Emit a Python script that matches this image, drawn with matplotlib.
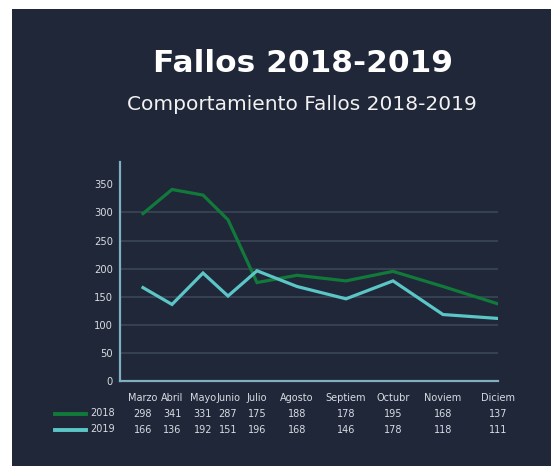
import matplotlib.pyplot as plt
from matplotlib.patches import Rectangle
from matplotlib.transforms import blended_transform_factory

months = ['Marzo', 'Abril', 'Mayo', 'Junio', 'Julio', 'Agosto',
          'Septiem', 'Octubr', 'Noviem', 'Diciem']
fallos_2018 = [298, 341, 331, 287, 175, 188, 178, 195, 168, 137]
fallos_2019 = [166, 136, 192, 151, 196, 168, 146, 178, 118, 111]
yticks = [0, 50, 100, 150, 200, 250, 300, 350]

# column centres of the table under the chart (pixel-ish layout units)
col_x = [143, 172, 203, 228, 257, 297, 346, 393, 443, 498]

BG = '#1f2739'
GREEN = '#117a3a'
TEAL = '#5cc6c6'
AXIS = '#7fafc0'
GRID = '#3a4757'
TXT = '#d8dce2'

W, H = 551, 466
fig = plt.figure(figsize=(W / 100, H / 100), dpi=100)
fig.patch.set_facecolor('white')
fig.patches.append(Rectangle((12 / W, 0), 1, 1 - 9 / H, transform=fig.transFigure,
                             facecolor=BG, edgecolor='none', zorder=-10))

def fx(x):
    return x / W

def fy(y):
    return 1 - y / H

# title
fig.text(fx(303), fy(63), 'Fallos 2018-2019', color='white', fontsize=22.5,
         fontweight='bold', ha='center', va='center')
fig.text(fx(302), fy(104), 'Comportamiento Fallos 2018-2019', color='#f2f2f2',
         fontsize=14.5, ha='center', va='center')

ax = fig.add_axes([fx(120), fy(380.7), fx(498) - fx(120), (380.7 - 162) / H])
ax.set_facecolor('none')
ax.set_xlim(120, 498)
ax.set_ylim(0, 390)

ax.plot(col_x, fallos_2018, color=GREEN, lw=2.3, solid_joinstyle='miter', zorder=3)
ax.plot(col_x, fallos_2019, color=TEAL, lw=2.3, solid_joinstyle='miter', zorder=3)

ax.set_yticks(yticks)
ax.set_yticklabels([str(v) for v in yticks], color=TXT, fontsize=7.2)
ax.tick_params(axis='y', length=0, pad=5)
ax.set_xticks([])
for v in yticks[1:-1]:
    ax.axhline(v, color=GRID, lw=1.2, zorder=1)

for s in ['top', 'right']:
    ax.spines[s].set_visible(False)
for s in ['left', 'bottom']:
    ax.spines[s].set_color(AXIS)
    ax.spines[s].set_linewidth(1.6)

# data table below the chart
tr = blended_transform_factory(ax.transData, fig.transFigure)
for x, m, a, b in zip(col_x, months, fallos_2018, fallos_2019):
    ax.text(x, fy(398), m, transform=tr, ha='center', va='center',
            color=TXT, fontsize=7, clip_on=False)
    ax.text(x, fy(414), str(a), transform=tr, ha='center', va='center',
            color=TXT, fontsize=7, clip_on=False)
    ax.text(x, fy(430), str(b), transform=tr, ha='center', va='center',
            color=TXT, fontsize=7, clip_on=False)

for y, name, c in [(414, '2018', GREEN), (430, '2019', TEAL)]:
    fig.lines.append(plt.Line2D([fx(55), fx(86)], [fy(y), fy(y)],
                                transform=fig.transFigure, color=c, lw=2.8))
    fig.text(fx(103), fy(y - 1), name, color=TXT, fontsize=7,
             ha='center', va='center')

fig.savefig('out.png', dpi=100, facecolor=fig.get_facecolor())
